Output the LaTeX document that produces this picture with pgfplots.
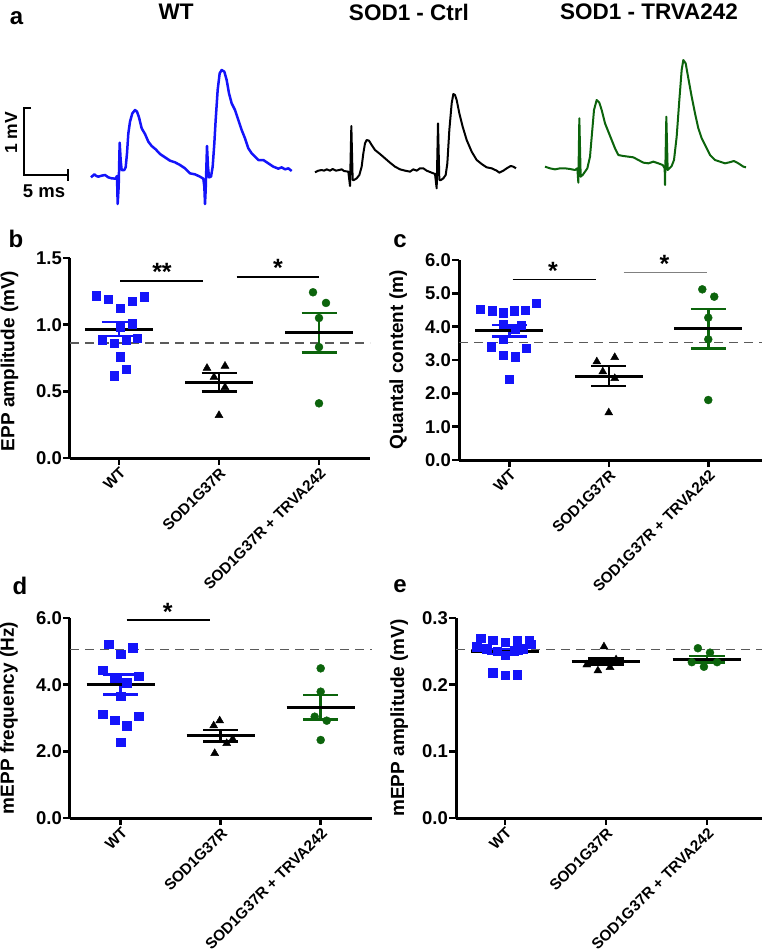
\documentclass[border=0pt]{standalone}
\usepackage{fontspec}
\setmainfont{Liberation Sans}
\usepackage{pgfplots}
\pgfplotsset{compat=1.18}
\definecolor{wtblue}{RGB}{20,20,250}
\definecolor{trgreen}{RGB}{12,100,12}
\definecolor{dashgray}{RGB}{90,90,90}
\pgfplotsset{
 panel/.style={
   scale only axis, height=200pt, anchor=south west,
   axis lines=left, axis line style={line width=3pt,-},
   every tick/.style={black, line width=2.5pt},
   major tick length=7pt, tick align=outside,
   xtick={0,1,2},
   xticklabels={WT,SOD1G37R,SOD1G37R + TRVA242},
   xticklabel style={rotate=45, anchor=north east, font=\bfseries\fontsize{15.3}{17}\selectfont, inner sep=1pt},
   yticklabel style={font=\bfseries\fontsize{18.5}{20}\selectfont, inner sep=1pt},
   /pgf/number format/fixed, /pgf/number format/fixed zerofill,
   /pgf/number format/precision=1, /pgf/number format/assume math mode=true,
   ylabel style={font=\bfseries\fontsize{19}{21}\selectfont, anchor=center},
   clip=false, ymin=0,
 },
 pts/.style={only marks, mark size=4.2pt},
 meanl/.style={black, line width=3pt},
 semb/.style={line width=2.5pt, unbounded coords=jump},
 dsh/.style={dashgray, line width=1.3pt, dash pattern=on 9pt off 6pt},
 sig/.style={black, line width=1.2pt},
 trace/.style={scale only axis, hide axis, y dir=reverse, xmin=0, ymin=0, anchor=north west, clip=false},
}
\newcommand{\starfont}{\bfseries\fontsize{25}{26}\selectfont}
\begin{document}
\begin{tikzpicture}
\path[use as bounding box] (0pt,0pt) rectangle (762pt,-952pt);
% ---------- panel a ----------
\node[font=\bfseries\fontsize{24}{26}\selectfont, inner sep=0] at (16.5pt,-18.5pt) {a};
\node[font=\bfseries\fontsize{22.5}{24}\selectfont, inner sep=0] at (176pt,-12pt) {WT};
\node[font=\bfseries\fontsize{22.5}{24}\selectfont, inner sep=0] at (409pt,-12pt) {SOD1 - Ctrl};
\node[font=\bfseries\fontsize{22.5}{24}\selectfont, inner sep=0] at (649pt,-12pt) {SOD1 - TRVA242};
\draw[line width=2pt] (31pt,-108pt) -- (24pt,-108pt) -- (24pt,-175pt) -- (68pt,-175pt);
\draw[line width=2pt] (68pt,-169pt) -- (68pt,-181pt);
\node[font=\bfseries\fontsize{17.5}{19}\selectfont, inner sep=0, rotate=90] at (11pt,-133pt) {1 mV};
\node[font=\bfseries\fontsize{18.5}{20}\selectfont, inner sep=0] at (44pt,-191.5pt) {5 ms};

\begin{axis}[trace, at={(85pt,-60pt)}, width=215pt, height=150pt, xmax=645, ymax=450]
\addplot[wtblue, line width=2.5pt, line join=round] coordinates {
(18,352) (28,343) (34,348) (40,350) (50,347) (60,345) (70,352) (80,355) (92,356) (96,348)
(98,432) (101,380) (104,248) (107,300) (110,330) (118,330) (122,322) (126,280) (130,220)
(135,185) (142,160) (150,150) (156,155) (162,172) (170,205) (180,222) (190,245) (200,258)
(212,268) (225,282) (240,292) (255,302) (270,307) (285,315) (300,325) (315,340) (330,343)
(345,350) (355,356) (358,380) (360,432) (362,390) (366,258) (369,320) (372,352) (378,350)
(383,320) (388,250) (392,180) (398,90) (404,40) (410,30) (418,35) (425,60) (432,100)
(440,130) (450,150) (460,180) (470,210) (480,235) (490,265) (500,280) (510,290) (520,300)
(535,300) (550,310) (565,320) (580,326) (590,322) (600,328) (610,325) (620,333)};
\end{axis}
\begin{axis}[trace, at={(300pt,-80pt)}, width=230pt, height=130pt, xmax=690, ymax=390]
\addplot[black, line width=2pt, line join=round] coordinates {
(45,277) (55,272) (65,270) (72,272) (80,268) (90,272) (98,267) (108,272) (118,270) (125,268)
(132,273) (145,275) (150,318) (154,138) (158,300) (162,300) (170,295) (178,285) (185,260)
(190,220) (195,190) (200,180) (207,182) (215,195) (225,210) (240,222) (255,235) (270,248)
(285,260) (300,268) (315,272) (330,275) (340,268) (350,272) (360,265) (370,265) (380,272)
(395,278) (405,282) (410,325) (414,130) (418,300) (423,300) (430,295) (437,285) (442,250)
(448,150) (455,70) (460,42) (465,45) (470,60) (478,100) (488,140) (500,180) (515,215)
(530,240) (545,252) (560,262) (575,265) (590,272) (598,278) (610,272) (620,265) (632,258)
(640,260) (648,265)};
\end{axis}
\begin{axis}[trace, at={(530pt,-50pt)}, width=225pt, height=150pt, xmax=675, ymax=450]
\addplot[trgreen, line width=2pt, line join=round] coordinates {
(45,350) (60,355) (75,358) (90,355) (105,355) (120,357) (135,360) (142,355) (145,398)
(148,205) (152,380) (158,375) (165,365) (172,355) (180,320) (186,250) (192,180) (200,150)
(208,158) (215,180) (225,220) (235,245) (245,270) (255,295) (265,315) (280,318) (295,320)
(310,322) (325,330) (340,338) (355,340) (370,335) (385,340) (398,345) (404,355) (405,405)
(409,200) (413,360) (418,355) (425,348) (432,330) (440,260) (448,150) (455,60) (460,30)
(467,40) (475,85) (485,140) (495,190) (505,235) (515,265) (525,285) (540,315) (555,330)
(570,335) (585,340) (598,337) (612,333) (625,340) (640,350) (648,352)};
\end{axis}

% ---------- panel b ----------
\node[font=\bfseries\fontsize{24}{26}\selectfont, inner sep=0] at (16pt,-238.5pt) {b};
\begin{axis}[panel, at={(70pt,-458pt)}, width=300pt, xmin=-0.49, xmax=2.51, ymax=1.5,
  ytick={0,0.5,1,1.5}, ylabel={EPP amplitude (mV)},
  ylabel style={at={(axis description cs:-0.202,0.485)}}]
\addplot[dsh] coordinates {(-0.49,0.862) (2.51,0.862)};
\addplot[pts, mark=square*, wtblue] coordinates {
(-0.23,1.218) (-0.11,1.19) (0.01,1.125) (0.13,1.175) (0.25,1.21) (0.01,0.983) (0.13,1.008)
(-0.17,0.887) (-0.05,0.862) (0.07,0.887) (0.18,0.90) (0.01,0.76) (0.07,0.667) (-0.05,0.616)};
\addplot[pts, mark=triangle*, black, mark size=4.6pt] coordinates {
(0.88,0.674) (1.06,0.69) (0.95,0.606) (1.06,0.53) (1.0,0.32)};
\addplot[pts, mark=*, trgreen, mark size=4pt] coordinates {
(1.94,1.243) (2.07,1.163) (2.0,1.05) (2.0,0.832) (2.0,0.41)};
\addplot[semb, wtblue] coordinates {(-0.175,1.02) (0.175,1.02) (0,nan) (-0.175,0.915) (0.175,0.915) (0,nan) (0,0.915) (0,1.02)};
\addplot[semb, black] coordinates {(0.825,0.636) (1.175,0.636) (1,nan) (0.825,0.498) (1.175,0.498) (1,nan) (1,0.498) (1,0.636)};
\addplot[semb, trgreen] coordinates {(1.825,1.088) (2.175,1.088) (2,nan) (1.825,0.79) (2.175,0.79) (2,nan) (2,0.79) (2,1.088)};
\addplot[meanl] coordinates {(-0.34,0.967) (0.34,0.967)};
\addplot[meanl] coordinates {(0.66,0.566) (1.34,0.566)};
\addplot[meanl] coordinates {(1.66,0.94) (2.34,0.94)};
\addplot[sig] coordinates {(0.01,1.328) (0.843,1.328)};
\addplot[sig] coordinates {(1.177,1.358) (2.003,1.358)};
\node[font=\starfont, anchor=base, inner sep=0] at (axis cs:0.43,1.33) {**};
\node[font=\starfont, anchor=base, inner sep=0] at (axis cs:1.59,1.36) {*};
\end{axis}

% ---------- panel c ----------
\node[font=\bfseries\fontsize{24}{26}\selectfont, inner sep=0] at (400pt,-241pt) {c};
\begin{axis}[panel, at={(459pt,-460pt)}, width=303pt, xmin=-0.505, xmax=2.54, ymax=6,
  ytick={0,1,2,3,4,5,6}, ylabel={Quantal content (m)},
  ylabel style={at={(axis description cs:-0.201,0.5)}}]
\addplot[dsh] coordinates {(-0.505,3.52) (2.54,3.52)};
\addplot[pts, mark=square*, wtblue] coordinates {
(-0.29,4.53) (-0.17,4.48) (-0.06,4.42) (0.05,4.48) (0.16,4.50) (0.27,4.70) (-0.06,4.07)
(0.12,4.05) (0.06,3.93) (-0.06,3.63) (-0.18,3.40) (0.17,3.35) (-0.06,3.15) (0.06,3.10) (0,2.42)};
\addplot[pts, mark=triangle*, black, mark size=4.6pt] coordinates {
(0.88,2.95) (1.06,3.08) (0.94,2.65) (1.06,2.45) (1.0,1.42)};
\addplot[pts, mark=*, trgreen, mark size=4pt] coordinates {
(1.94,5.12) (2.06,4.90) (2.0,4.27) (2.0,3.62) (2.0,1.80)};
\addplot[semb, wtblue] coordinates {(-0.175,4.05) (0.175,4.05) (0,nan) (-0.175,3.70) (0.175,3.70) (0,nan) (0,3.70) (0,4.05)};
\addplot[semb, black] coordinates {(0.825,2.82) (1.175,2.82) (1,nan) (0.825,2.22) (1.175,2.22) (1,nan) (1,2.22) (1,2.82)};
\addplot[semb, trgreen] coordinates {(1.825,4.53) (2.175,4.53) (2,nan) (1.825,3.35) (2.175,3.35) (2,nan) (2,3.35) (2,4.53)};
\addplot[meanl] coordinates {(-0.34,3.88) (0.34,3.88)};
\addplot[meanl] coordinates {(0.66,2.52) (1.34,2.52)};
\addplot[meanl] coordinates {(1.66,3.94) (2.34,3.94)};
\addplot[sig] coordinates {(0.034,5.42) (0.874,5.42)};
\addplot[sig, gray] coordinates {(1.15,5.62) (1.99,5.62)};
\node[font=\starfont, anchor=base, inner sep=0] at (axis cs:0.44,5.42) {*};
\node[font=\starfont, anchor=base, inner sep=0] at (axis cs:1.56,5.62) {*};
\end{axis}

% ---------- panel d ----------
\node[font=\bfseries\fontsize{24}{26}\selectfont, inner sep=0] at (20pt,-585.5pt) {d};
\begin{axis}[panel, at={(70pt,-818pt)}, width=302pt, xmin=-0.507, xmax=2.513, ymax=6,
  ytick={0,2,4,6}, ylabel={mEPP frequency (Hz)},
  ylabel style={at={(axis description cs:-0.202,0.5)}}]
\addplot[dsh] coordinates {(-0.507,5.06) (2.513,5.06)};
\addplot[pts, mark=square*, wtblue] coordinates {
(-0.12,5.22) (0,4.92) (0.12,5.11) (-0.18,4.44) (-0.06,4.19) (0.06,4.06) (0.18,4.26)
(0,3.66) (-0.18,3.11) (-0.06,2.94) (0.18,3.06) (0.06,2.77) (0,2.27)};
\addplot[pts, mark=triangle*, black, mark size=4.6pt] coordinates {
(0.93,2.77) (0.99,2.92) (1.12,2.37) (1.06,2.24) (0.94,1.94)};
\addplot[pts, mark=*, trgreen, mark size=4pt] coordinates {
(2.0,4.49) (2.0,3.79) (1.94,3.04) (2.06,2.92) (2.0,2.34)};
\addplot[semb, wtblue] coordinates {(-0.175,4.31) (0.175,4.31) (0,nan) (-0.175,3.71) (0.175,3.71) (0,nan) (0,3.71) (0,4.31)};
\addplot[semb, black] coordinates {(0.825,2.64) (1.175,2.64) (1,nan) (0.825,2.29) (1.175,2.29) (1,nan) (1,2.29) (1,2.64)};
\addplot[semb, trgreen] coordinates {(1.825,3.69) (2.175,3.69) (2,nan) (1.825,2.96) (2.175,2.96) (2,nan) (2,2.96) (2,3.69)};
\addplot[meanl] coordinates {(-0.34,4.01) (0.34,4.01)};
\addplot[meanl] coordinates {(0.66,2.47) (1.34,2.47)};
\addplot[meanl] coordinates {(1.66,3.33) (2.34,3.33)};
\addplot[sig] coordinates {(0.06,5.94) (0.893,5.94)};
\node[font=\starfont, anchor=base, inner sep=0] at (axis cs:0.47,5.94) {*};
\end{axis}

% ---------- panel e ----------
\node[font=\bfseries\fontsize{24}{26}\selectfont, inner sep=0] at (400pt,-586pt) {e};
\begin{axis}[panel, at={(456pt,-818pt)}, width=306pt, xmin=-0.485, xmax=2.545, ymax=0.3,
  ytick={0,0.1,0.2,0.3}, ylabel={mEPP amplitude (mV)},
  ylabel style={at={(axis description cs:-0.186,0.5)}}]
\addplot[dsh] coordinates {(-0.485,0.253) (2.545,0.253)};
\addplot[pts, mark=square*, wtblue] coordinates {
(-0.24,0.2697) (-0.12,0.267) (0,0.264) (0.12,0.266) (0.24,0.267) (-0.28,0.257) (0.26,0.261)
(-0.18,0.254) (-0.08,0.250) (0,0.244) (0.09,0.251) (0.18,0.254) (-0.12,0.218) (0,0.214) (0.12,0.215)};
\addplot[pts, mark=triangle*, black, mark size=4.6pt] coordinates {
(0.98,0.257) (0.81,0.2299) (0.92,0.221) (1.04,0.226) (1.1,0.2376)};
\addplot[pts, mark=*, trgreen, mark size=4pt] coordinates {
(1.91,0.2547) (2.03,0.248) (1.85,0.2338) (1.97,0.2269) (2.1,0.2338)};
\addplot[semb, wtblue] coordinates {(-0.175,0.2537) (0.175,0.2537) (0,nan) (-0.175,0.2457) (0.175,0.2457) (0,nan) (0,0.2457) (0,0.2537)};
\addplot[semb, black] coordinates {(0.825,0.239) (1.175,0.239) (1,nan) (0.825,0.2299) (1.175,0.2299) (1,nan) (1,0.2299) (1,0.239)};
\addplot[semb, trgreen] coordinates {(1.825,0.2433) (2.175,0.2433) (2,nan) (1.825,0.2333) (2.175,0.2333) (2,nan) (2,0.2333) (2,0.2433)};
\addplot[meanl] coordinates {(-0.34,0.2497) (0.34,0.2497)};
\addplot[meanl] coordinates {(0.66,0.2343) (1.34,0.2343)};
\addplot[meanl] coordinates {(1.66,0.2378) (2.34,0.2378)};
\end{axis}
\end{tikzpicture}
\end{document}
